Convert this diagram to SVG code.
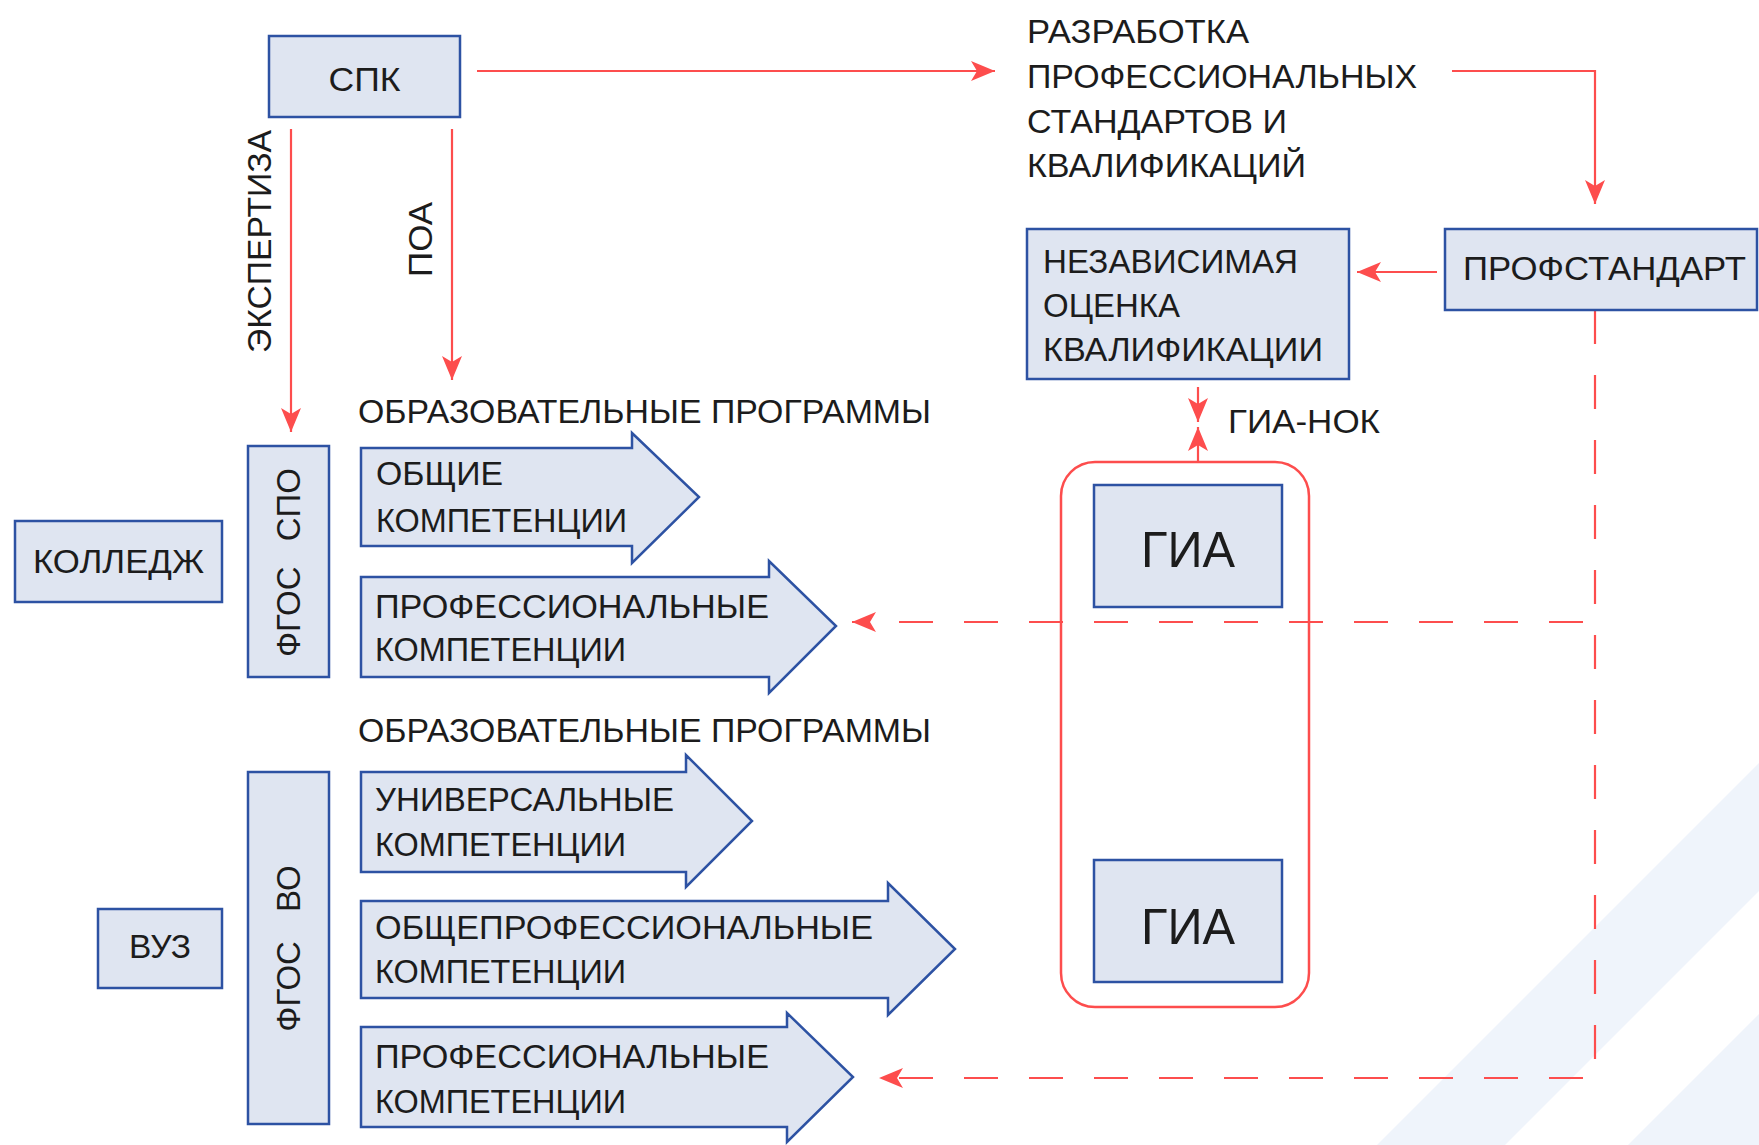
<svg xmlns="http://www.w3.org/2000/svg" width="1759" height="1145" viewBox="0 0 1759 1145">
<style>
.box{fill:#dfe5f1;stroke:#2d52a3;stroke-width:2.5}
.barrow{fill:#dfe5f1;stroke:#2d52a3;stroke-width:2.5;stroke-linejoin:miter}
.t{font-family:"Liberation Sans",Arial,sans-serif;font-size:33px;fill:#1c1c1c}
.big{font-family:"Liberation Sans",Arial,sans-serif;font-size:50px;fill:#1c1c1c}
.ln{fill:none;stroke:#fd4d4d;stroke-width:2.2}
.dash{fill:none;stroke:#fd4d4d;stroke-width:2.2;stroke-dasharray:34 31}
</style>
<defs>
<marker id="ah" viewBox="0 0 24 20" refX="24" refY="10" markerWidth="24" markerHeight="20" markerUnits="userSpaceOnUse" orient="auto">
<path d="M0,0 L24,10 L0,20 L6,10 z" fill="#fd4d4d"/>
</marker>
</defs>
<rect width="1759" height="1145" fill="#ffffff"/>
<g id="background">
<polygon points="1377,1145 1759,763 1759,891 1505,1145" fill="#eff4fb"/>
<polygon points="1628,1145 1759,1014 1759,1145" fill="#eff4fb"/>
</g>

<g id="connectors">
<path class="ln" d="M477,71 H995" marker-end="url(#ah)"/>
<path class="ln" d="M1452,71 H1595 V204" marker-end="url(#ah)"/>
<path class="ln" d="M1437,272 H1357" marker-end="url(#ah)"/>
<path class="ln" d="M291,129 V432" marker-end="url(#ah)"/>
<path class="ln" d="M452,129 V380" marker-end="url(#ah)"/>
<path class="ln" d="M1198,387 V422" marker-end="url(#ah)"/>
<path class="ln" d="M1198,462 V427" marker-end="url(#ah)"/>
<path class="dash" d="M1595,310 V1078 H879" marker-end="url(#ah)"/>
<path class="dash" d="M1583,622 H852" marker-end="url(#ah)"/>
</g>

<g id="label-ekspertiza">
<text class="t" transform="translate(271,241.5) rotate(-90)" text-anchor="middle" textLength="223" lengthAdjust="spacingAndGlyphs">ЭКСПЕРТИЗА</text>
</g>
<g id="label-poa">
<text class="t" transform="translate(432,239.5) rotate(-90)" text-anchor="middle" textLength="75" lengthAdjust="spacingAndGlyphs">ПОА</text>
</g>

<g id="spk">
<rect class="box" x="269" y="36" width="191" height="81"/>
<text class="t" x="364.5" y="91" text-anchor="middle" textLength="72" lengthAdjust="spacingAndGlyphs">СПК</text>
</g>

<g id="razrabotka">
<text class="t" x="1027" y="43" textLength="222" lengthAdjust="spacingAndGlyphs">РАЗРАБОТКА</text>
<text class="t" x="1027" y="88" textLength="390" lengthAdjust="spacingAndGlyphs">ПРОФЕССИОНАЛЬНЫХ</text>
<text class="t" x="1027" y="133" textLength="260" lengthAdjust="spacingAndGlyphs">СТАНДАРТОВ И</text>
<text class="t" x="1027" y="177" textLength="279" lengthAdjust="spacingAndGlyphs">КВАЛИФИКАЦИЙ</text>
</g>

<g id="profstandart">
<rect class="box" x="1445" y="229" width="312" height="81"/>
<text class="t" x="1463" y="280" textLength="283" lengthAdjust="spacingAndGlyphs">ПРОФСТАНДАРТ</text>
</g>

<g id="nok">
<rect class="box" x="1027" y="229" width="322" height="150"/>
<text class="t" x="1043" y="273" textLength="255" lengthAdjust="spacingAndGlyphs">НЕЗАВИСИМАЯ</text>
<text class="t" x="1043" y="317" textLength="137" lengthAdjust="spacingAndGlyphs">ОЦЕНКА</text>
<text class="t" x="1043" y="361" textLength="280" lengthAdjust="spacingAndGlyphs">КВАЛИФИКАЦИИ</text>
</g>

<g id="label-gia-nok">
<text class="t" x="1228" y="433" textLength="152" lengthAdjust="spacingAndGlyphs">ГИА-НОК</text>
</g>

<g id="gia-group">
<rect x="1061" y="462" width="248" height="545" rx="34" ry="34" fill="none" stroke="#fd4d4d" stroke-width="2.5"/>
</g>
<g id="gia-1">
<rect class="box" x="1094" y="485" width="188" height="122"/>
<text class="big" x="1188" y="567" text-anchor="middle" textLength="94" lengthAdjust="spacingAndGlyphs">ГИА</text>
</g>
<g id="gia-2">
<rect class="box" x="1094" y="860" width="188" height="122"/>
<text class="big" x="1188" y="944" text-anchor="middle" textLength="94" lengthAdjust="spacingAndGlyphs">ГИА</text>
</g>

<g id="kolledzh">
<rect class="box" x="15" y="521" width="207" height="81"/>
<text class="t" x="118.5" y="573" text-anchor="middle" textLength="171" lengthAdjust="spacingAndGlyphs">КОЛЛЕДЖ</text>
</g>

<g id="vuz">
<rect class="box" x="98" y="909" width="124" height="79"/>
<text class="t" x="160" y="958" text-anchor="middle" textLength="62" lengthAdjust="spacingAndGlyphs">ВУЗ</text>
</g>

<g id="fgos-spo">
<rect class="box" x="248" y="446" width="81" height="231"/>
<text class="t" transform="translate(300,562.5) rotate(-90)" text-anchor="middle" word-spacing="16">ФГОС СПО</text>
</g>

<g id="fgos-vo">
<rect class="box" x="248" y="772" width="81" height="352"/>
<text class="t" transform="translate(300,948.5) rotate(-90)" text-anchor="middle" word-spacing="20">ФГОС ВО</text>
</g>

<g id="label-op-1">
<text class="t" x="358" y="423" textLength="573" lengthAdjust="spacingAndGlyphs">ОБРАЗОВАТЕЛЬНЫЕ ПРОГРАММЫ</text>
</g>
<g id="label-op-2">
<text class="t" x="358" y="742" textLength="573" lengthAdjust="spacingAndGlyphs">ОБРАЗОВАТЕЛЬНЫЕ ПРОГРАММЫ</text>
</g>

<g id="ok">
<polygon class="barrow" points="361,448 632,448 632,433 699,497 632,563 632,546 361,546"/>
<text class="t" x="376" y="485" textLength="127" lengthAdjust="spacingAndGlyphs">ОБЩИЕ</text>
<text class="t" x="376" y="532" textLength="251" lengthAdjust="spacingAndGlyphs">КОМПЕТЕНЦИИ</text>
</g>

<g id="pk-spo">
<polygon class="barrow" points="361,577 769,577 769,561 836,626 769,693 769,677 361,677"/>
<text class="t" x="375" y="618" textLength="394" lengthAdjust="spacingAndGlyphs">ПРОФЕССИОНАЛЬНЫЕ</text>
<text class="t" x="375" y="661" textLength="251" lengthAdjust="spacingAndGlyphs">КОМПЕТЕНЦИИ</text>
</g>

<g id="uk">
<polygon class="barrow" points="361,772 686,772 686,755 752,821 686,887 686,872 361,872"/>
<text class="t" x="375" y="811" textLength="299" lengthAdjust="spacingAndGlyphs">УНИВЕРСАЛЬНЫЕ</text>
<text class="t" x="375" y="856" textLength="251" lengthAdjust="spacingAndGlyphs">КОМПЕТЕНЦИИ</text>
</g>

<g id="opk">
<polygon class="barrow" points="361,901 888,901 888,883 955,949 888,1015 888,998 361,998"/>
<text class="t" x="375" y="939" textLength="498" lengthAdjust="spacingAndGlyphs">ОБЩЕПРОФЕССИОНАЛЬНЫЕ</text>
<text class="t" x="375" y="983" textLength="251" lengthAdjust="spacingAndGlyphs">КОМПЕТЕНЦИИ</text>
</g>

<g id="pk-vo">
<polygon class="barrow" points="361,1027 787,1027 787,1013 853,1077 787,1142 787,1127 361,1127"/>
<text class="t" x="375" y="1068" textLength="394" lengthAdjust="spacingAndGlyphs">ПРОФЕССИОНАЛЬНЫЕ</text>
<text class="t" x="375" y="1113" textLength="251" lengthAdjust="spacingAndGlyphs">КОМПЕТЕНЦИИ</text>
</g>
</svg>
